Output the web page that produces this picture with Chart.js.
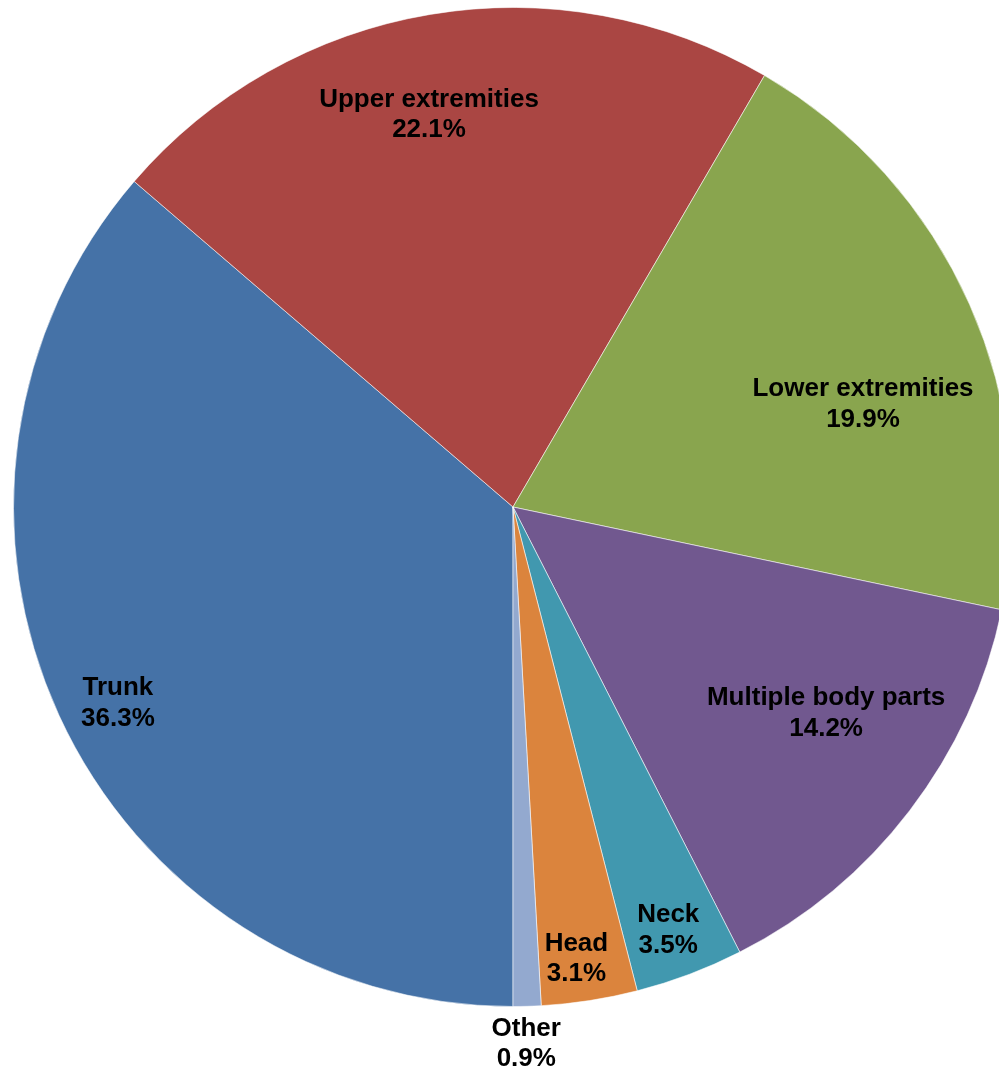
<!DOCTYPE html>
<html>
<head>
<meta charset="utf-8">
<script src="https://cdn.jsdelivr.net/npm/chart.js@4/dist/chart.umd.min.js"></script>
<style>
  html, body { margin: 0; padding: 0; background: #ffffff; overflow: hidden; }
  #wrap { width: 999px; height: 1074px; overflow: hidden; position: relative; }
  canvas { display: block; }
</style>
</head>
<body>
<div id="wrap"><canvas id="c" width="1026" height="1074"></canvas></div>
<script>
// ---- Data ----
const categories = ["Trunk", "Upper extremities", "Lower extremities", "Multiple body parts", "Neck", "Head", "Other"];
const shares = [36.3, 22.1, 19.9, 14.2, 3.5, 3.1, 0.9];
const valueLabels = ["36.3%", "22.1%", "19.9%", "14.2%", "3.5%", "3.1%", "0.9%"];

// ---- Styles / layout ----
const sliceColors = ["#4572A7", "#AA4643", "#89A54E", "#71588F", "#4198AF", "#DB843D", "#93A9CF"];
// label placement relative to each arc: angle offset (deg) from mid-angle, radius as fraction of outer radius
const labelPlacement = [
  { dAngle: -1.6, r: 0.882 },
  { dAngle: -2.5, r: 0.806 },
  { dAngle: 7.4,  r: 0.731 },
  { dAngle: -4.26, r: 0.749 },
  { dAngle: 0.5,  r: 0.900 },
  { dAngle: 0.8,  r: 0.910 },
  { dAngle: 0.2,  r: 1.072 }
];

const sliceLabels = {
  id: 'sliceLabels',
  afterDatasetsDraw(chart) {
    const ctx = chart.ctx;
    const meta = chart.getDatasetMeta(0);
    ctx.save();
    ctx.font = 'bold 26px "Liberation Sans", Arial, sans-serif';
    ctx.fillStyle = '#000000';
    ctx.textAlign = 'center';
    ctx.textBaseline = 'middle';
    const lineH = 30.5;
    meta.data.forEach((arc, i) => {
      const p = arc.getProps(['x', 'y', 'startAngle', 'endAngle', 'outerRadius'], true);
      const lp = labelPlacement[i];
      const mid = (p.startAngle + p.endAngle) / 2 + lp.dAngle * Math.PI / 180;
      const rr = p.outerRadius * lp.r;
      const x = p.x + Math.cos(mid) * rr;
      const y = p.y + Math.sin(mid) * rr + 1.5;
      ctx.fillText(categories[i], x, y - lineH / 2);
      ctx.fillText(valueLabels[i], x, y + lineH / 2);
    });
    ctx.restore();
  }
};

new Chart(document.getElementById('c'), {
  type: 'pie',
  data: {
    labels: categories,
    datasets: [{
      data: shares,
      backgroundColor: sliceColors,
      borderColor: 'rgba(255,255,255,0.55)',
      borderWidth: 1
    }]
  },
  options: {
    responsive: false,
    animation: false,
    rotation: 180,
    layout: { padding: { left: 13, right: 13, top: 7, bottom: 67 } },
    plugins: {
      legend: { display: false },
      tooltip: { enabled: false }
    }
  },
  plugins: [sliceLabels]
});
</script>
</body>
</html>
